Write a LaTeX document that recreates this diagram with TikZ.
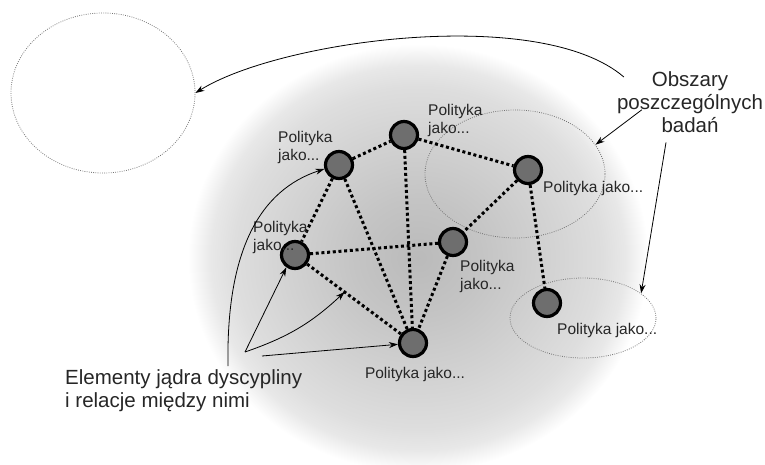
\documentclass[tikz,border=0pt]{standalone}
\usepackage{fontspec}
\setmainfont{Liberation Sans}
\usetikzlibrary{shapes.geometric,arrows.meta}

\pgfdeclareradialshading{core}{\pgfpointorigin}{color(0bp)=(black!27); color(7bp)=(black!23); color(15bp)=(black!17); color(20bp)=(black!13); color(22.5bp)=(black!9); color(25bp)=(white); color(50bp)=(white)}

\tikzstyle{pol}=[circle, draw=black, line width=3.2pt, fill=black!57, minimum size=27pt, inner sep=0pt]
\tikzstyle{lab}=[inner sep=0pt, align=left, text=black!85, font=\fontsize{15.5}{18}\selectfont]
\tikzstyle{big}=[inner sep=0pt, text=black!85, font=\fontsize{20.5}{23}\selectfont]
\tikzstyle{link}=[line width=3pt, dash pattern=on 3pt off 2.7pt]
\tikzstyle{area}=[ellipse, draw=black!55, line width=0.8pt, dash pattern=on 0.8pt off 1.4pt, inner sep=0pt]
\tikzstyle{arr}=[line width=0.8pt, -{Stealth[length=9pt,width=6pt]}]

\begin{document}
\begin{tikzpicture}[x=1pt, y=-1pt]
	\useasboundingbox (0,0) rectangle (765,464);
	%core
	\shade[shading=core] (418,258) ellipse (230 and 214);
	%areas
	\node[area, minimum width=184pt, minimum height=160pt] (area left) at (103,93) {};
	\node[area, minimum width=180pt, minimum height=128pt] (area right) at (515,174) {};
	\node[area, minimum width=146pt, minimum height=80pt] (area low) at (583,318) {};
	%elements
	\node[pol] (pol upper) at (339,165) {};
	\node[pol] (pol top) at (404,135) {};
	\node[pol] (pol right) at (528,170) {};
	\node[pol] (pol left) at (295,255) {};
	\node[pol] (pol mid) at (453,242) {};
	\node[pol] (pol bottom) at (413,343) {};
	\node[pol] (pol far) at (547,303) {};
	%relations
	\draw[link] (pol upper) -- (pol top);
	\draw[link] (pol upper) -- (pol left);
	\draw[link] (pol upper) -- (pol bottom);
	\draw[link] (pol top) -- (pol right);
	\draw[link] (pol top) -- (pol bottom);
	\draw[link] (pol right) -- (pol mid);
	\draw[link] (pol right) -- (pol far);
	\draw[link] (pol left) -- (pol mid);
	\draw[link] (pol left) -- coordinate[pos=0.4] (left bottom mid) (pol bottom);
	\draw[link] (pol mid) -- (pol bottom);
	%labels
	\node[lab, anchor=north west] (lab upper) at (278,131) {Polityka\\jako...};
	\node[lab, anchor=north west] (lab top) at (428,104) {Polityka\\jako...};
	\node[lab, anchor=north west] (lab right) at (543,181) {Polityka jako...};
	\node[lab, anchor=north west] (lab left) at (253,221) {Polityka\\jako...};
	\node[lab, anchor=north west] (lab mid) at (460,260) {Polityka\\jako...};
	\node[lab, anchor=north] (lab bottom) at (415,367) {Polityka jako...};
	\node[lab, anchor=north west] (lab far) at (557,323) {Polityka jako...};
	%texts
	\node[big, align=center, anchor=north] (obszary) at (690,71) {Obszary\\poszczególnych\\badań};
	\node[big, align=left, anchor=north west] (elementy) at (65,369) {Elementy jądra dyscypliny\\i relacje między nimi};
	%arrows
	\draw[arr] ([shift={(7,6)}]obszary.north west) .. controls (540,5) and (280,40) .. (area left.east);
	\draw[arr] ([shift={(25,8)}]obszary.west) -- (area right.20);
	\draw[arr] ([shift={(-24,10)}]obszary.south) -- (area low.23);
	\coordinate (el a) at (228,366);
	\coordinate (el b) at (245,352);
	\coordinate (el c) at (262,356);
	\draw[arr] (el a) .. controls (226,250) and (260,190) .. (pol upper.195);
	\draw[arr] (el b) -- (pol left.235);
	\draw[arr] (el b) to[bend right=12] (left bottom mid);
	\draw[arr] (el c) -- (pol bottom);
\end{tikzpicture}
\end{document}
